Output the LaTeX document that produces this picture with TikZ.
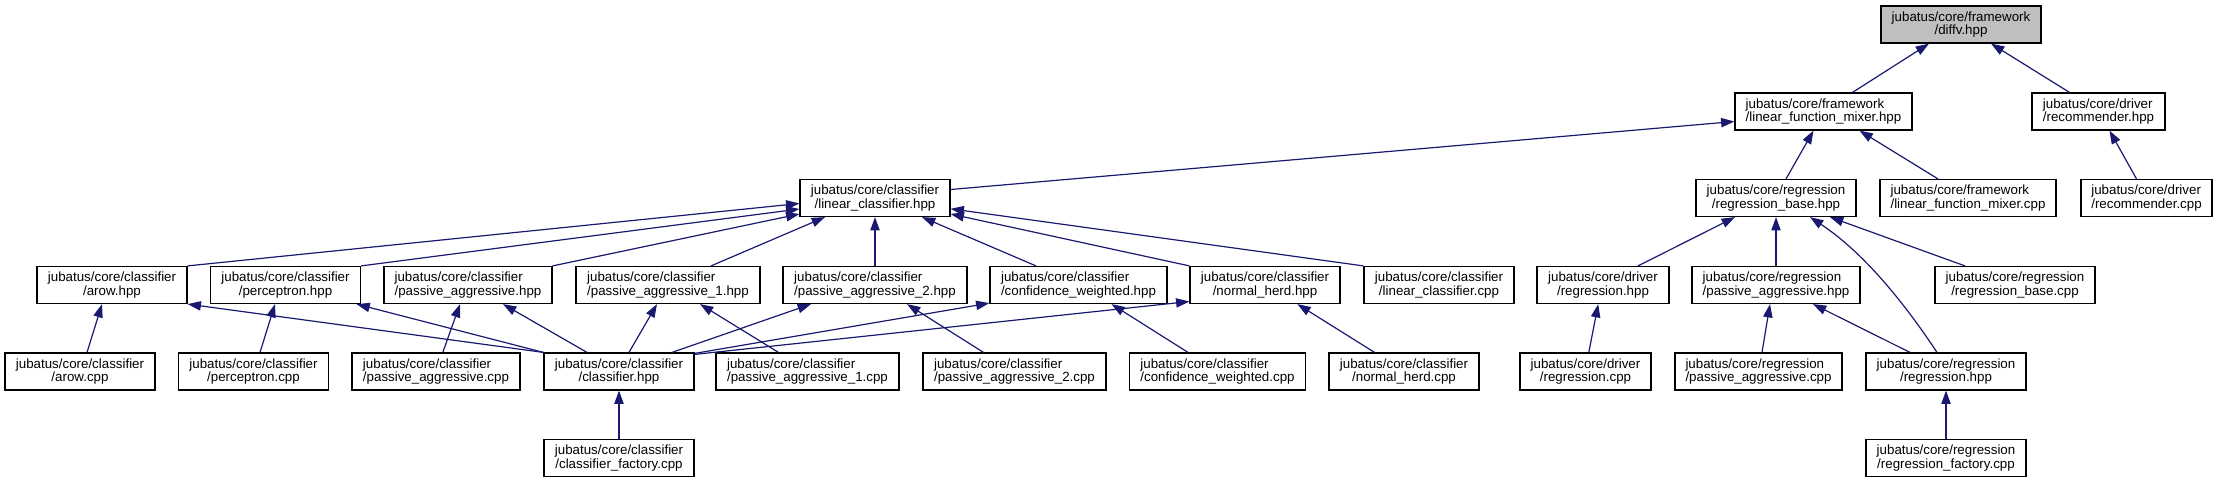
\documentclass[tikz,border=0pt]{standalone}
\usepackage{fontspec}
\setmainfont{Liberation Sans}
\usetikzlibrary{arrows.meta,calc}
\definecolor{mblue}{RGB}{25,25,112}
\definecolor{rootgray}{RGB}{191,191,191}
\tikzset{
  box/.style={draw=black, line width=0.9pt, fill=white, minimum height=27.75pt,
    inner xsep=0pt, inner ysep=2pt, font=\fontsize{10pt}{10pt}\selectfont, align=center},
  lbox/.style={box, align=left},
  edge/.style={draw=mblue, line width=0.9pt, -{Triangle[length=10pt,width=7pt]}}
}
\begin{document}
\begin{tikzpicture}[x=0.75pt,y=-0.75pt]
\useasboundingbox (0,0) rectangle (2218,483);
% row 1
\node[box, fill=rootgray, minimum width=120pt] (diffv) at (1961,24.5) {jubatus/core/framework\\/diffv.hpp};
% row 2
\node[lbox, minimum width=132.75pt] (lfmh) at (1823.5,111.5) {jubatus/core/framework\\/linear\_function\_mixer.hpp};
\node[lbox, minimum width=99.75pt] (rech) at (2098.5,111.5) {jubatus/core/driver\\/recommender.hpp};
% row 3
\node[box, minimum width=112.5pt] (lch) at (875,198) {jubatus/core/classifier\\/linear\_classifier.hpp};
\node[box, minimum width=120pt] (rbh) at (1776,198) {jubatus/core/regression\\/regression\_base.hpp};
\node[lbox, minimum width=132pt] (lfmc) at (1968,198) {jubatus/core/framework\\/linear\_function\_mixer.cpp};
\node[lbox, minimum width=98.25pt] (recc) at (2146.5,198) {jubatus/core/driver\\/recommender.cpp};
% row 4
\node[box, minimum width=112.5pt] (aroh) at (112,285) {jubatus/core/classifier\\/arow.hpp};
\node[box, minimum width=112.5pt] (perh) at (285.5,285) {jubatus/core/classifier\\/perceptron.hpp};
\node[lbox, minimum width=126pt] (pah) at (468,285) {jubatus/core/classifier\\/passive\_aggressive.hpp};
\node[lbox, minimum width=138pt] (pa1h) at (668,285) {jubatus/core/classifier\\/passive\_aggressive\_1.hpp};
\node[lbox, minimum width=138pt] (pa2h) at (875,285) {jubatus/core/classifier\\/passive\_aggressive\_2.hpp};
\node[lbox, minimum width=132.75pt] (cwh) at (1078.5,285) {jubatus/core/classifier\\/confidence\_weighted.hpp};
\node[box, minimum width=112.5pt] (nhh) at (1265,285) {jubatus/core/classifier\\/normal\_herd.hpp};
\node[box, minimum width=112.5pt] (lcc) at (1439,285) {jubatus/core/classifier\\/linear\_classifier.cpp};
\node[box, minimum width=99pt] (dregh) at (1603,285) {jubatus/core/driver\\/regression.hpp};
\node[lbox, minimum width=126pt] (rpah) at (1776,285) {jubatus/core/regression\\/passive\_aggressive.hpp};
\node[box, minimum width=120pt] (rbc) at (2015,285) {jubatus/core/regression\\/regression\_base.cpp};
% row 5
\node[box, minimum width=112.5pt] (aroc) at (80,371.5) {jubatus/core/classifier\\/arow.cpp};
\node[box, minimum width=112.5pt] (perc) at (253.5,371.5) {jubatus/core/classifier\\/perceptron.cpp};
\node[lbox, minimum width=126pt] (pac) at (436,371.5) {jubatus/core/classifier\\/passive\_aggressive.cpp};
\node[box, minimum width=112.5pt] (clsh) at (619,371.5) {jubatus/core/classifier\\/classifier.hpp};
\node[lbox, minimum width=137.25pt] (pa1c) at (807.5,371.5) {jubatus/core/classifier\\/passive\_aggressive\_1.cpp};
\node[lbox, minimum width=137.25pt] (pa2c) at (1014.5,371.5) {jubatus/core/classifier\\/passive\_aggressive\_2.cpp};
\node[lbox, minimum width=132pt] (cwc) at (1217.5,371.5) {jubatus/core/classifier\\/confidence\_weighted.cpp};
\node[box, minimum width=112.5pt] (nhc) at (1404,371.5) {jubatus/core/classifier\\/normal\_herd.cpp};
\node[box, minimum width=98.25pt] (dregc) at (1585.5,371.5) {jubatus/core/driver\\/regression.cpp};
\node[lbox, minimum width=125.25pt] (rpac) at (1758.5,371.5) {jubatus/core/regression\\/passive\_aggressive.cpp};
\node[box, minimum width=120pt] (regh) at (1946,371.5) {jubatus/core/regression\\/regression.hpp};
% row 6
\node[box, minimum width=112.5pt] (cfc) at (619,458) {jubatus/core/classifier\\/classifier\_factory.cpp};
\node[box, minimum width=120pt] (rfc) at (1946,458) {jubatus/core/regression\\/regression\_factory.cpp};
% edges
\draw[edge] ($(lfmh.north)+(29,0)$) -- ($(diffv.south)+(-32,0)$);
\draw[edge] ($(rech.north)+(-29,0)$) -- ($(diffv.south)+(30,0)$);
\draw[edge] ($(lch.east)+(0,-8.5)$) -- ($(lfmh.west)+(0,10)$);
\draw[edge] ($(rbh.north)+(10,0)$) -- ($(lfmh.south)+(-10,0)$);
\draw[edge] ($(lfmc.north)+(-30,0)$) -- ($(lfmh.south)+(36,0)$);
\draw[edge] ($(recc.north)+(-10,0)$) -- ($(rech.south)+(11,0)$);
\draw[edge] (aroh.north east) -- ($(lch.west)+(0,5.5)$);
\draw[edge] (perh.north east) -- ($(lch.west)+(0,11)$);
\draw[edge] (pah.north east) -- ($(lch.west)+(0,16)$);
\draw[edge] ($(pa1h.north)+(43,0)$) -- ($(lch.south)+(-50,0)$);
\draw[edge] (pa2h.north) -- (lch.south);
\draw[edge] ($(cwh.north)+(-42.5,0)$) -- ($(lch.south)+(47,0)$);
\draw[edge] (nhh.north west) -- ($(lch.east)+(0,16)$);
\draw[edge] (lcc.north west) -- ($(lch.east)+(0,10.8)$);
\draw[edge] ($(dregh.north)+(35,0)$) -- ($(rbh.south)+(-41,0)$);
\draw[edge] (rpah.north) -- (rbh.south);
\draw[edge] ($(rbc.north)+(-50,0)$) -- ($(rbh.south)+(54,0)$);
\draw[edge] ($(regh.north)+(-9,0)$) .. controls ($(regh.north)+(-46,-56)$) and ($(rbh.south)+(84,33)$) .. ($(rbh.south)+(34,0)$);
\draw[edge] ($(aroc.north)+(7,0)$) -- ($(aroh.south)+(-10,0)$);
\draw[edge] (clsh.north west) -- (aroh.south east);
\draw[edge] ($(perc.north)+(6.5,0)$) -- ($(perh.south)+(-10.5,0)$);
\draw[edge] (clsh.north west) -- ($(perh.south)+(71,0)$);
\draw[edge] ($(pac.north)+(6.8,0)$) -- ($(pah.south)+(-8,0)$);
\draw[edge] ($(clsh.north)+(-32,0)$) -- ($(pah.south)+(35,0)$);
\draw[edge] ($(clsh.north)+(10,0)$) -- ($(pa1h.south)+(-11,0)$);
\draw[edge] ($(pa1c.north)+(-29,0)$) -- ($(pa1h.south)+(32,0)$);
\draw[edge] ($(clsh.north)+(53,0)$) -- ($(pa2h.south)+(-64,0)$);
\draw[edge] ($(pa2c.north)+(-31,0)$) -- ($(pa2h.south)+(32,0)$);
\draw[edge] ($(clsh.north east)+(0,1)$) -- ($(cwh.south west)+(0,-1)$);
\draw[edge] ($(cwc.north)+(-29.5,0)$) -- ($(cwh.south)+(33,0)$);
\draw[edge] ($(clsh.north east)+(0,2)$) -- ($(nhh.west)+(0,16.5)$);
\draw[edge] ($(nhc.north)+(-29.5,0)$) -- ($(nhh.south)+(32.4,0)$);
\draw[edge] ($(dregc.north)+(3.3,0)$) -- ($(dregh.south)+(-4.8,0)$);
\draw[edge] ($(rpac.north)+(3.5,0)$) -- ($(rpah.south)+(-6,0)$);
\draw[edge] ($(regh.north)+(-36,0)$) -- ($(rpah.south)+(37,0)$);
\draw[edge] (cfc.north) -- (clsh.south);
\draw[edge] (rfc.north) -- (regh.south);
\end{tikzpicture}
\end{document}
